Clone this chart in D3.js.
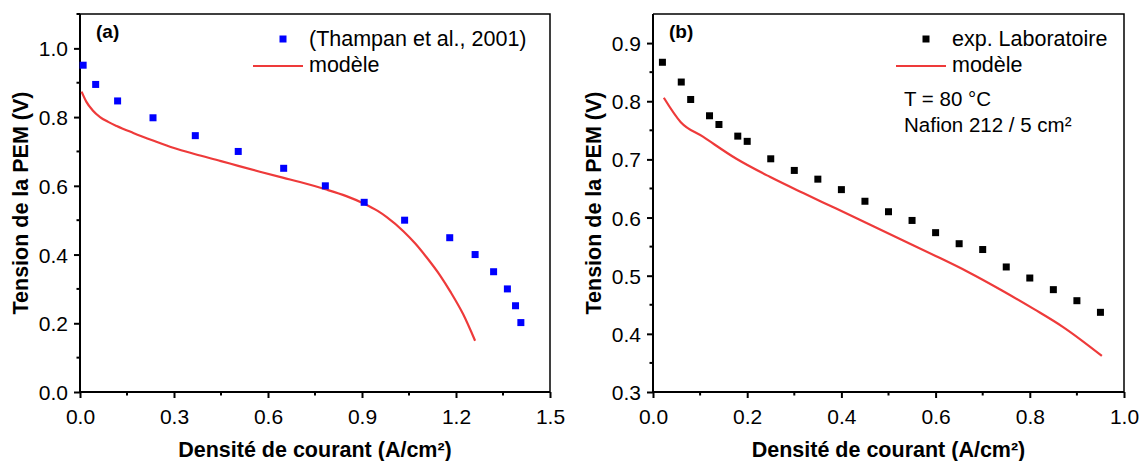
<!DOCTYPE html>
<html>
<head>
<meta charset="utf-8">
<script src="https://cdn.jsdelivr.net/npm/d3@7"></script>
<style>
  body { margin: 0; background: #fff; }
  svg { display: block; font-family: "Liberation Sans", Arial, sans-serif; }
</style>
</head>
<body>
<div id="chart"></div>
<script>
// (a) Thampan et al., 2001 vs model
const thampanJ = [0.01, 0.05, 0.12, 0.233, 0.368, 0.505, 0.65, 0.783, 0.907, 1.036, 1.18, 1.261, 1.32, 1.364, 1.39, 1.407];
const thampanV = [0.951, 0.895, 0.847, 0.798, 0.746, 0.7, 0.651, 0.6, 0.552, 0.5, 0.449, 0.4, 0.35, 0.3, 0.251, 0.202];
const modelAJ = [0.005, 0.02, 0.04, 0.064, 0.09, 0.117, 0.17, 0.233, 0.3, 0.368, 0.45, 0.505, 0.574, 0.65, 0.702, 0.783, 0.85, 0.907, 0.95, 0.979, 1.032, 1.07, 1.106, 1.15, 1.182, 1.223, 1.261];
const modelAV = [0.874, 0.845, 0.82, 0.8, 0.786, 0.774, 0.754, 0.732, 0.71, 0.692, 0.672, 0.658, 0.641, 0.623, 0.611, 0.59, 0.57, 0.548, 0.527, 0.509, 0.468, 0.432, 0.392, 0.338, 0.292, 0.226, 0.149];

// (b) lab experiment vs model
const labJ = [0.02, 0.06, 0.08, 0.12, 0.14, 0.18, 0.2, 0.25, 0.3, 0.35, 0.4, 0.45, 0.5, 0.55, 0.6, 0.65, 0.7, 0.75, 0.8, 0.85, 0.9, 0.95];
const labV = [0.867, 0.833, 0.803, 0.775, 0.76, 0.74, 0.731, 0.701, 0.681, 0.666, 0.648, 0.628, 0.61, 0.595, 0.574, 0.555, 0.545, 0.515, 0.496, 0.476, 0.457, 0.437];
const modelBJ = [0.023, 0.059, 0.106, 0.177, 0.248, 0.319, 0.39, 0.46, 0.53, 0.6, 0.67, 0.74, 0.81, 0.87, 0.953];
const modelBV = [0.806, 0.764, 0.739, 0.701, 0.67, 0.642, 0.615, 0.588, 0.561, 0.534, 0.506, 0.475, 0.442, 0.412, 0.362];

const xTicksA = [0, 0.3, 0.6, 0.9, 1.2, 1.5];
const yTicksA = [0, 0.2, 0.4, 0.6, 0.8, 1.0];
const xTicksB = [0, 0.2, 0.4, 0.6, 0.8, 1.0];
const yTicksB = [0.3, 0.4, 0.5, 0.6, 0.7, 0.8, 0.9];

const xTitle = "Densité de courant (A/cm²)";
const yTitle = "Tension de la PEM (V)";

const w = 1146, h = 461;
const red = "#ee3a3a";

const svg = d3.select("#chart").append("svg").attr("width", w).attr("height", h);

function midTicks(ticks) {
  const out = [];
  for (let i = 0; i < ticks.length - 1; i++) out.push((ticks[i] + ticks[i + 1]) / 2);
  return out;
}

function drawPanel(p) {
  const x = d3.scaleLinear().domain(p.xDomain).range([p.left, p.right]);
  const y = d3.scaleLinear().domain(p.yDomain).range([p.bottom, p.top]);
  const g = svg.append("g");

  // frame (top + right)
  g.append("path")
    .attr("d", `M${p.left},${p.top}H${p.right}V${p.bottom}`)
    .attr("fill", "none").attr("stroke", "#000").attr("stroke-width", 1.5);

  // x axis
  const xAxis = g.append("g").attr("transform", `translate(0,${p.bottom})`)
    .call(d3.axisBottom(x).tickValues(p.xTicks).tickFormat(d3.format(".1f")).tickSize(6).tickPadding(11));
  xAxis.append("g").selectAll("line").data(midTicks(p.xTicks)).enter().append("line")
    .attr("x1", d => x(d)).attr("x2", d => x(d)).attr("y1", 0).attr("y2", 3.5)
    .attr("stroke", "#000").attr("stroke-width", 2);

  // y axis
  const yMinor = midTicks(p.yTicks);
  if (p.yTicks[p.yTicks.length - 1] + (p.yTicks[1] - p.yTicks[0]) / 2 <= p.yDomain[1]) {
    yMinor.push(p.yTicks[p.yTicks.length - 1] + (p.yTicks[1] - p.yTicks[0]) / 2);
  }
  const yAxis = g.append("g").attr("transform", `translate(${p.left},0)`)
    .call(d3.axisLeft(y).tickValues(p.yTicks).tickFormat(d3.format(".1f")).tickSize(6).tickPadding(6));
  yAxis.append("g").selectAll("line").data(yMinor).enter().append("line")
    .attr("y1", d => y(d)).attr("y2", d => y(d)).attr("x1", 0).attr("x2", -3.5)
    .attr("stroke", "#000").attr("stroke-width", 2);

  [xAxis, yAxis].forEach(a => {
    a.select(".domain").attr("stroke-width", 2);
    a.selectAll(".tick line").attr("stroke-width", 2);
    a.selectAll(".tick text").attr("font-size", 21).attr("fill", "#000")
      .attr("font-family", "'Liberation Sans', Arial, sans-serif");
  });
  yAxis.selectAll(".tick text").attr("dy", "0.36em");
  xAxis.select(".domain").attr("d", `M${p.left},0H${p.right}`);
  yAxis.select(".domain").attr("d", `M0,${p.bottom}V${p.top}`);

  // axis titles
  g.append("text").text(xTitle)
    .attr("x", (p.left + p.right) / 2).attr("y", p.bottom + 65)
    .attr("text-anchor", "middle").attr("font-size", 21.5).attr("font-weight", "bold");
  g.append("text").text(yTitle)
    .attr("transform", `translate(${p.left - 52},${(p.top + p.bottom) / 2}) rotate(-90)`)
    .attr("text-anchor", "middle").attr("font-size", 21.5).attr("font-weight", "bold");

  // panel label
  g.append("text").text(p.label)
    .attr("x", p.left + 16).attr("y", p.top + 24)
    .attr("font-size", 19).attr("font-weight", "bold");

  // model line
  const line = d3.line().x(d => x(d[0])).y(d => y(d[1])).curve(d3.curveMonotoneX);
  g.append("path")
    .datum(d3.zip(p.modelJ, p.modelV))
    .attr("d", line)
    .attr("fill", "none").attr("stroke", red).attr("stroke-width", 2.2);

  // experimental points
  const s = 7;
  g.append("g").selectAll("rect").data(d3.zip(p.expJ, p.expV)).enter().append("rect")
    .attr("x", d => x(d[0]) - s / 2).attr("y", d => y(d[1]) - s / 2)
    .attr("width", s).attr("height", s).attr("fill", p.markColor);

  // legend
  const lg = g.append("g");
  lg.append("rect")
    .attr("x", p.legX - 26 - s / 2).attr("y", p.top + 25 - s / 2)
    .attr("width", s).attr("height", s).attr("fill", p.markColor);
  lg.append("text").text(p.expName).attr("x", p.legX).attr("y", p.top + 32).attr("font-size", 21.5);
  lg.append("line")
    .attr("x1", p.legX - 56).attr("x2", p.legX - 6)
    .attr("y1", p.top + 52).attr("y2", p.top + 52)
    .attr("stroke", red).attr("stroke-width", 2.2);
  lg.append("text").text("modèle").attr("x", p.legX).attr("y", p.top + 58).attr("font-size", 21.5);
  (p.notes || []).forEach((t, i) => {
    lg.append("text").text(t).attr("x", p.legX - 48).attr("y", p.top + 92 + i * 26).attr("font-size", 20.5);
  });
}

drawPanel({
  left: 80, right: 550, top: 14, bottom: 392,
  xDomain: [0, 1.5], yDomain: [0, 1.1],
  xTicks: xTicksA, yTicks: yTicksA,
  label: "(a)",
  expJ: thampanJ, expV: thampanV, markColor: "#0000ff",
  modelJ: modelAJ, modelV: modelAV,
  expName: "(Thampan et al., 2001)", legX: 309
});

drawPanel({
  left: 653, right: 1124, top: 14, bottom: 392,
  xDomain: [0, 1.0], yDomain: [0.3, 0.95],
  xTicks: xTicksB, yTicks: yTicksB,
  label: "(b)",
  expJ: labJ, expV: labV, markColor: "#000",
  modelJ: modelBJ, modelV: modelBV,
  expName: "exp. Laboratoire", legX: 952,
  notes: ["T = 80 °C", "Nafion 212 / 5 cm²"]
});
</script>
</body>
</html>
